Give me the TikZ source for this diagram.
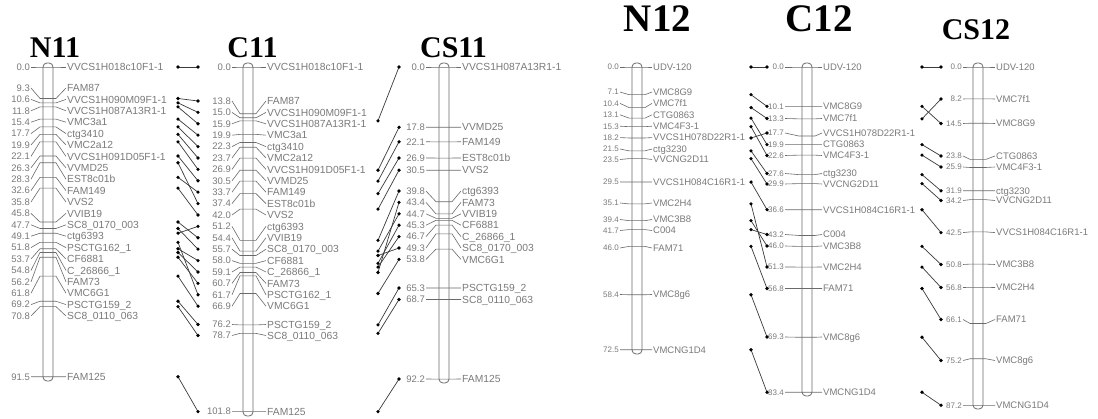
\documentclass[tikz,border=0pt]{standalone}
\usepackage{fontspec}
\newfontfamily\labf{Liberation Sans}
\newfontfamily\ttlf{Liberation Serif}
\definecolor{txtgray}{HTML}{7A7A7A}
\definecolor{linegray}{HTML}{6A6A6A}
\definecolor{linkgray}{HTML}{3A3A3A}
\tikzset{
  numL/.style={font=\labf\fontsize{9.5}{9.5}\selectfont, text=txtgray, inner sep=1pt, text height=6.8pt, text depth=0pt},
  mkL/.style={font=\labf\fontsize{10.3}{10.3}\selectfont, text=txtgray, inner sep=1pt, text height=7.4pt, text depth=0pt},
  numR/.style={font=\labf\fontsize{8}{8}\selectfont, text=txtgray, inner sep=1pt, text height=5.7pt, text depth=0pt},
  mkR/.style={font=\labf\fontsize{9.5}{9.5}\selectfont, text=txtgray, inner sep=1pt, text height=6.8pt, text depth=0pt},
  tickln/.style={draw=linegray, line width=0.6pt},
  barln/.style={draw=linegray, line width=0.8pt, rounded corners=4pt},
  linkln/.style={draw=linkgray, line width=0.7pt},
  dotnd/.style={circle, fill=black, inner sep=0pt, minimum size=3.6pt},
  ttl/.style={font=\ttlf\bfseries\fontsize{30}{30}\selectfont, anchor=base, inner sep=0pt},
  ttlbig/.style={ttl, font=\ttlf\bfseries\fontsize{39}{39}\selectfont},
}
% #1 prefix, #2 cx, #3 numx, #4 namex, #5 scale, #6 number style, #7 name style, #8 list cM/labely/name/id
\newcommand\chromo[8]{%
  \foreach \cm/\ly/\nm/\id in {#8} {
    \pgfmathsetmacro\ty{67+\cm*#5}
    \coordinate (#1-\id-t) at (#2,\ty);
    \coordinate (#1-\id-l) at (#2,\ly);
    \node[#6,anchor=east] (#1-\id-n) at (#3,\ly) {\cm};
    \node[#7,anchor=west] (#1-\id-m) at (#4,\ly) {\nm};
    \draw[tickln] (#1-\id-n.east) -- (#2-8,\ty) -- (#2+8,\ty) -- (#1-\id-m.west);
  }%
}
% #1 left prefix, #2 right prefix, #3 left column, #4 right column, #5 ids
\newcommand\linkup[5]{%
  \foreach \id in {#5} {
    \draw[linkln] (#1-\id-t -| #3) node[dotnd]{} -- (#2-\id-l -| #4) node[dotnd]{};
  }%
}
\begin{document}
\begin{tikzpicture}[x=1pt,y=-1pt]
\useasboundingbox[fill=white] (0,0) rectangle (1098,419);
% titles
\node[ttl] (tN11) at (55,58) {N11};
\node[ttl] (tC11) at (252.5,58) {C11};
\node[ttl] (tCS11) at (453.5,58) {CS11};
\node[ttlbig] (tN12) at (657.5,32) {N12};
\node[ttlbig] (tC12) at (819,32) {C12};
\node[ttl] (tCS12) at (976,40) {CS12};
% bars
\draw[barln] (43,63) rectangle (53,381);
\draw[barln] (243,63) rectangle (253,416);
\draw[barln] (439,63) rectangle (449,383);
\draw[barln] (632,63) rectangle (642,354);
\draw[barln] (802,63) rectangle (812,396);
\draw[barln] (973,63) rectangle (983,409);
% chromosomes
\chromo{N11}{48}{31}{66}{3.385}{numL}{mkL}{
0.0/67/VVCS1H018c10F1-1/a018,
9.3/88/FAM87/f87,
10.6/99.4/VVCS1H090M09F1-1/a090,
11.8/110.8/VVCS1H087A13R1-1/a087,
15.4/122.2/VMC3a1/v3a1,
17.7/133.6/ctg3410/c3410,
19.9/145/VMC2a12/v2a12,
22.1/156.4/VVCS1H091D05F1-1/a091,
26.3/167.8/VVMD25/vmd25,
28.3/179.2/EST8c01b/est,
32.6/190.6/FAM149/f149,
35.8/202/VVS2/vvs2,
45.8/213.4/VVIB19/vib19,
47.7/224.8/SC8\_0170\_003/sc170,
49.1/236.2/ctg6393/c6393,
51.8/247.6/PSCTG162\_1/ps162,
53.7/259/CF6881/cf,
54.8/270.4/C\_26866\_1/c268,
56.2/281.8/FAM73/f73,
61.8/293.2/VMC6G1/v6g1,
69.2/304.6/PSCTG159\_2/ps159,
70.8/316/SC8\_0110\_063/sc110,
91.5/376.7/FAM125/f125}
\chromo{C11}{248}{232}{266}{3.385}{numL}{mkL}{
0.0/67/VVCS1H018c10F1-1/a018,
13.8/101/FAM87/f87,
15.0/112.4/VVCS1H090M09F1-1/a090,
15.9/123.8/VVCS1H087A13R1-1/a087,
19.9/135.2/VMC3a1/v3a1,
22.3/146.6/ctg3410/c3410,
23.7/158/VMC2a12/v2a12,
26.9/169.4/VVCS1H091D05F1-1/a091,
30.5/180.8/VVMD25/vmd25,
33.7/192.2/FAM149/f149,
37.4/203.6/EST8c01b/est,
42.0/215/VVS2/vvs2,
51.2/226.4/ctg6393/c6393,
54.4/237.8/VVIB19/vib19,
55.7/249.2/SC8\_0170\_003/sc170,
58.0/260.6/CF6881/cf,
59.1/272/C\_26866\_1/c268,
60.7/283.4/FAM73/f73,
61.7/294.8/PSCTG162\_1/ps162,
66.9/306.2/VMC6G1/v6g1,
76.2/324.5/PSCTG159\_2/ps159,
78.7/335.5/SC8\_0110\_063/sc110,
101.8/411.6/FAM125/f125}
\chromo{CS11}{444}{426}{461}{3.385}{numL}{mkL}{
0.0/67/VVCS1H087A13R1-1/a087,
17.8/127.3/VVMD25/vmd25,
22.1/141.8/FAM149/f149,
26.9/158/EST8c01b/est,
30.5/170.2/VVS2/vvs2,
39.8/191/ctg6393/c6393,
43.4/202.4/FAM73/f73,
44.7/213.8/VVIB19/vib19,
45.3/225.2/CF6881/cf,
46.7/236.6/C\_26866\_1/c268,
49.3/248/SC8\_0170\_003/sc170,
53.8/259.4/VMC6G1/v6g1,
65.3/288/PSCTG159\_2/ps159,
68.7/299.5/SC8\_0110\_063/sc110,
92.2/379/FAM125/f125}
\chromo{N12}{637}{620}{652}{3.9}{numR}{mkR}{
0.0/67/UDV-120/udv,
7.1/92/VMC8G9/v8g9,
10.4/103.4/VMC7f1/v7f1,
13.1/114.8/CTG0863/ctg,
15.3/126.2/VMC4F3-1/v4f3,
18.2/137.6/VVCS1H078D22R1-1/a078,
21.5/149/ctg3230/c3230,
23.5/159.5/VVCNG2D11/cng,
29.5/182/VVCS1H084C16R1-1/a084,
35.1/203/VMC2H4/v2h4,
39.4/219.5/VMC3B8/v3b8,
41.7/230.5/C004/c004,
46.0/248/FAM71/f71,
58.4/294.5/VMC8g6/v8g6,
72.5/349.8/VMCNG1D4/vng}
\chromo{C12}{807}{785}{822}{3.9}{numR}{mkR}{
0.0/67/UDV-120/udv,
10.1/106.4/VMC8G9/v8g9,
13.3/118.5/VMC7f1/v7f1,
17.7/133/VVCS1H078D22R1-1/a078,
19.9/144.6/CTG0863/ctg,
22.6/155.5/VMC4F3-1/v4f3,
27.6/173.5/ctg3230/c3230,
29.9/184/VVCNG2D11/cng,
36.6/209.7/VVCS1H084C16R1-1/a084,
43.2/234.5/C004/c004,
46.0/246/VMC3B8/v3b8,
51.3/267/VMC2H4/v2h4,
56.8/288.5/FAM71/f71,
69.3/337/VMC8g6/v8g6,
83.4/392.3/VMCNG1D4/vng}
\chromo{CS12}{978}{963}{995}{3.88}{numR}{mkR}{
0.0/67/UDV-120/udv,
8.2/99/VMC7f1/v7f1,
14.5/123.5/VMC8G9/v8g9,
23.8/156/CTG0863/ctg,
25.9/167/VMC4F3-1/v4f3,
31.9/190.8/ctg3230/c3230,
34.2/200.5/VVCNG2D11/cng,
42.5/232.6/VVCS1H084C16R1-1/a084,
50.8/264.5/VMC3B8/v3b8,
56.8/287.5/VMC2H4/v2h4,
66.1/319.5/FAM71/f71,
75.2/360.5/VMC8g6/v8g6,
87.2/405.3/VMCNG1D4/vng}
% link columns
\coordinate (xa) at (178,0);
\coordinate (xb) at (198,0);
\coordinate (xc) at (378,0);
\coordinate (xd) at (399,0);
\coordinate (xe) at (751,0);
\coordinate (xf) at (767,0);
\coordinate (xg) at (922,0);
\coordinate (xh) at (941,0);
\linkup{N11}{C11}{xa}{xb}{a018,f87,a090,a087,v3a1,c3410,v2a12,a091,vmd25,est,f149,vvs2,vib19,sc170,c6393,ps162,cf,c268,f73,v6g1,ps159,sc110,f125}
\linkup{C11}{CS11}{xc}{xd}{a087,vmd25,f149,est,vvs2,c6393,f73,vib19,cf,c268,sc170,v6g1,ps159,sc110,f125}
\linkup{N12}{C12}{xe}{xf}{udv,v8g9,v7f1,ctg,v4f3,a078,c3230,cng,a084,v2h4,v3b8,c004,f71,v8g6,vng}
\linkup{C12}{CS12}{xg}{xh}{udv,v8g9,v7f1,ctg,v4f3,c3230,cng,a084,v3b8,v2h4,f71,v8g6,vng}
\end{tikzpicture}
\end{document}
